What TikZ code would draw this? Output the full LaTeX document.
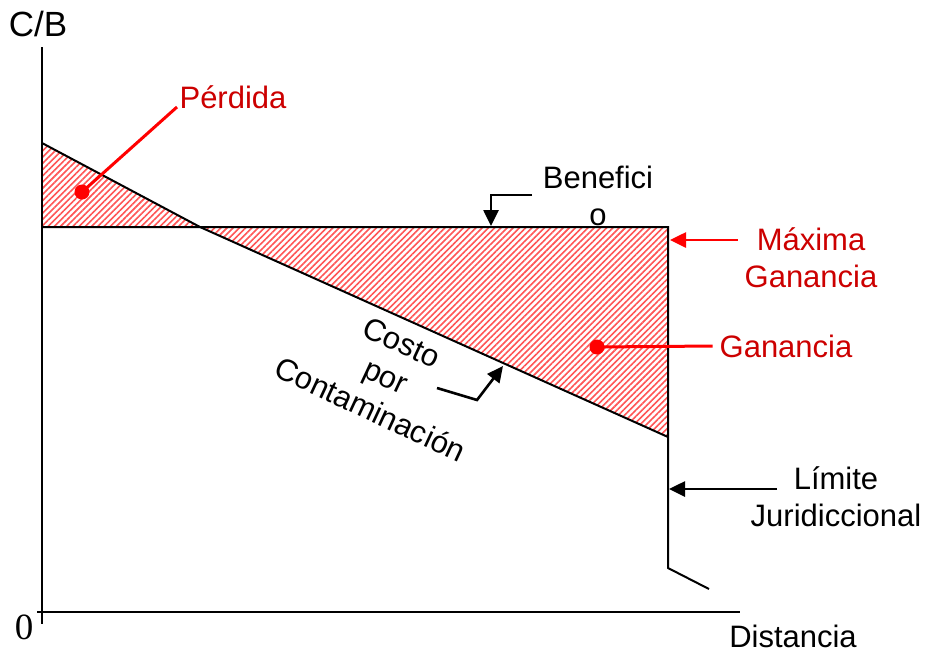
\documentclass[tikz,border=0pt]{standalone}
\usepackage{fontspec}
\setmainfont{Liberation Sans}
\newfontfamily\serifnum{Liberation Serif}
\usetikzlibrary{arrows.meta,patterns.meta}
\definecolor{rojo}{RGB}{204,0,0}
\definecolor{linearoja}{RGB}{255,0,0}
\definecolor{rayado}{RGB}{255,85,85}

\begin{document}
\begin{tikzpicture}[x=0.5pt,y=-0.5pt,
    every node/.style={font=\fontsize{15.5}{18.5}\selectfont},
    eje/.style={line width=1pt},
    curva/.style={line width=1pt},
    zona/.style={pattern={Lines[angle=45,distance=2.2pt,line width=0.8pt]},pattern color=rayado},
    flecha/.style={line width=1.3pt,-{Triangle[length=8pt,width=7.5pt]}},
    flecharoja/.style={flecha,draw=linearoja,fill=linearoja},
    guia/.style={line width=1.5pt,draw=linearoja},
    punto/.style={circle,fill=linearoja,inner sep=0pt,minimum size=7.5pt}]
  \useasboundingbox (0,0) rectangle (927,654);
  %\draw[help lines,step=50] (0,0) grid (927,654);
  \coordinate (a) at (42,143);
  \coordinate (b) at (42,227);
  \coordinate (c) at (200,227);
  \coordinate (d) at (668,227);
  \coordinate (e) at (668,437);
  \coordinate (f) at (668,568);
  \coordinate (g) at (709,589);
  \fill[zona] (a) -- (c) -- (b) -- cycle;
  \fill[zona] (c) -- (d) -- (e) -- cycle;
  \draw[eje] (42,47) -- (42,624);
  \draw[eje] (37,612) -- (740,612);
  \draw[curva] (a) -- (c) -- (e);
  \draw[curva] (b) -- (d) -- (f) -- (g);
  \node[font=\fontsize{17.5}{20}\selectfont] (cb) at (38,24) {C/B};
  \node[font=\serifnum\fontsize{18.5}{20}\selectfont] (cero) at (24,627) {0};
  \node (distancia) at (793,636) {Distancia};
  \node[text=rojo] (perdida) at (233,97) {Pérdida};
  \node[punto] (pdot) at (82,192) {};
  \coordinate (pfin) at (177,107);
  \draw[guia] (pdot.center) -- (pfin);
  \node[align=center] (beneficio) at (598,196) {Benefici\\o};
  \coordinate (b1) at (532,195);
  \coordinate (btip) at (491,226);
  \draw[flecha] (b1) -| (btip);
  \node[text=rojo,align=center] (maxima) at (811,258) {Máxima\\Ganancia};
  \coordinate (mtip) at (670,240);
  \draw[flecharoja] (maxima.west |- mtip) -- (mtip);
  \node[text=rojo] (ganancia) at (786,346) {Ganancia};
  \node[punto] (gdot) at (597,347) {};
  \draw[guia] (gdot.center) -- (ganancia.west);
  \node[align=center,rotate=-25] (costo) at (386,376) {Costo\\por\\Contaminación};
  \coordinate (c1) at (437,388);
  \coordinate (c2) at (477,400);
  \coordinate (ctip) at (503,366);
  \draw[flecha] (c1) -- (c2) -- (ctip);
  \node[align=center] (limite) at (836,497) {Límite\\Juridiccional};
  \coordinate (l1) at (777,489);
  \coordinate (ltip) at (669,489);
  \draw[flecha] (l1) -- (ltip);
\end{tikzpicture}
\end{document}
